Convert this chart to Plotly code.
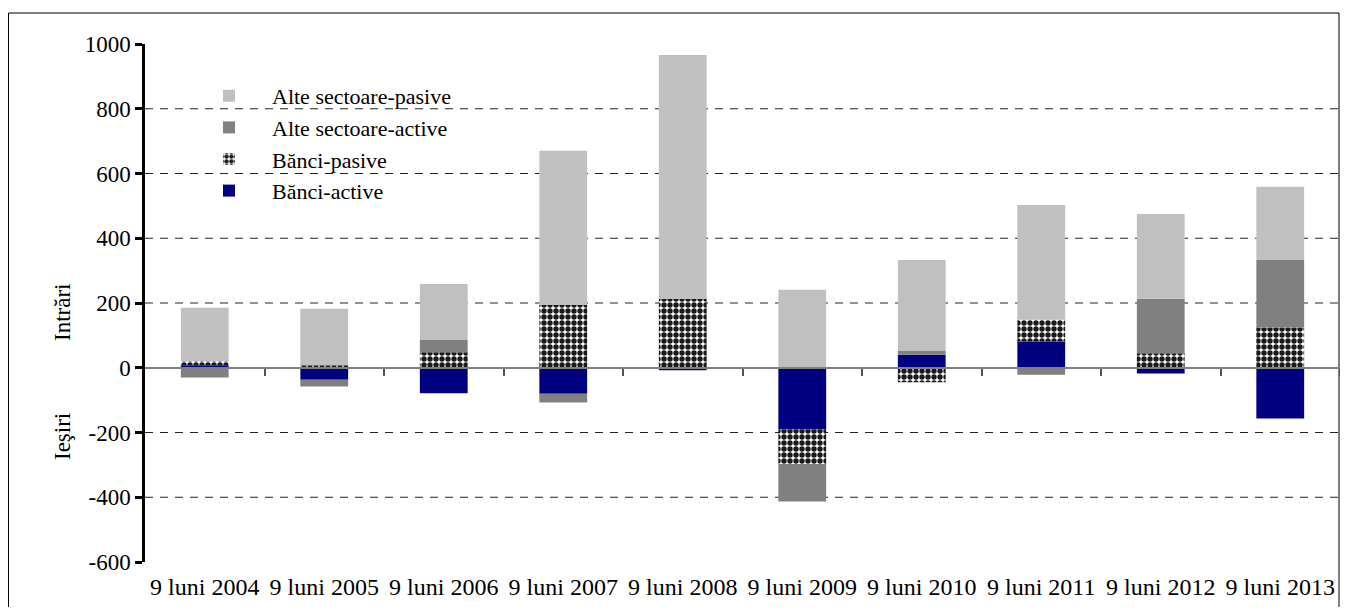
import plotly.graph_objects as go

categories = ["9 luni 2004", "9 luni 2005", "9 luni 2006", "9 luni 2007", "9 luni 2008",
              "9 luni 2009", "9 luni 2010", "9 luni 2011", "9 luni 2012", "9 luni 2013"]
banci_active = [8, -37, -79, -80, -8, -191, 40, 81, -18, -157]
banci_pasive = [12, 8, 48, 194, 213, -106, -45, 67, 45, 124]
alte_active = [-30, -21, 38, -27, 0, -116, 12, -22, 168, 209]
alte_pasive = [165, 174, 173, 476, 753, 241, 281, 355, 262, 226]

grid_values = [-400, -200, 200, 400, 600, 800]
y_ticks = [-600, -400, -200, 0, 200, 400, 600, 800, 1000]
y_tick_text = [str(v) for v in y_ticks]

FONT = "Liberation Serif, Times New Roman, serif"

fig = go.Figure()
fig.add_trace(go.Bar(x=categories, y=banci_active, name="Bănci-active",
                     marker=dict(color="#000080", line=dict(width=0))))
fig.add_trace(go.Bar(x=categories, y=banci_pasive, name="Bănci-pasive",
                     marker=dict(color="white", line=dict(width=0),
                                 pattern=dict(shape=".", fgcolor="#1a1a1a", bgcolor="white",
                                              size=6, solidity=0.64, fillmode="replace"))))
fig.add_trace(go.Bar(x=categories, y=alte_active, name="Alte sectoare-active",
                     marker=dict(color="#808080", line=dict(width=0))))
fig.add_trace(go.Bar(x=categories, y=alte_pasive, name="Alte sectoare-pasive",
                     marker=dict(color="#C0C0C0", line=dict(width=0))))

# helper trace for the zero-line axis
fig.add_trace(go.Scatter(x=[None], y=[None], xaxis="x2", yaxis="y", showlegend=False,
                         hoverinfo="skip"))

# figure is placed at (8, 8) on the page by the body margin
FW, FH = 1332, 599
L, R, T, B = 137, 1332, 36, 554
W, H = R - L, B - T

shapes = []
for g in grid_values:
    shapes.append(dict(type="line", xref="paper", yref="y", x0=0, x1=1, y0=g, y1=g,
                       line=dict(color="#222222", width=1, dash="8px,7px"), layer="below"))
# outer border
shapes.append(dict(type="rect", xref="paper", yref="paper",
                   x0=(0.5 - L) / W, x1=(1331 - L) / W, y0=(B - 640) / H, y1=(B - 5) / H,
                   line=dict(color="black", width=1), fillcolor="rgba(0,0,0,0)", layer="below"))

zero_pos = (0 - y_ticks[0]) / (y_ticks[-1] - y_ticks[0])

fig.update_layout(
    width=FW, height=FH,
    margin=dict(l=L, r=FW - R, t=T, b=FH - B),
    paper_bgcolor="white", plot_bgcolor="white",
    barmode="relative", bargap=0.6,
    font=dict(family=FONT, size=23, color="black"),
    showlegend=True,
    legend=dict(x=(178 - L) / W, y=(B - 67) / H, xanchor="left", yanchor="top",
                traceorder="reversed", bgcolor="rgba(0,0,0,0)",
                font=dict(family=FONT, size=22, color="black"), itemwidth=76),
    xaxis=dict(type="category", range=[-0.5, 9.5], showline=False, ticks="", showgrid=False,
               zeroline=False, ticklabelstandoff=8,
               tickfont=dict(family=FONT, size=24, color="black")),
    xaxis2=dict(overlaying="x", anchor="free", position=zero_pos, range=[-0.5, 9.5],
                showline=True, linecolor="#808080", linewidth=2, ticks="outside", ticklen=7,
                tickcolor="#555555", tickwidth=1.5, showticklabels=False, showgrid=False,
                zeroline=False, tickvals=[i + 0.5 for i in range(10)], side="bottom"),
    yaxis=dict(range=[y_ticks[0], y_ticks[-1]], tickvals=y_ticks, ticktext=y_tick_text,
               showgrid=False, zeroline=False,
               showline=True, linecolor="black", linewidth=2.5, ticks="outside", ticklen=7,
               tickcolor="black", tickwidth=2.5, tickfont=dict(family=FONT, size=23, color="black")),
    shapes=shapes,
    annotations=[
        dict(text="Intrări", xref="paper", yref="paper", x=(54 - L) / W, y=(B - 304) / H,
             xanchor="center", yanchor="middle",
             textangle=-90, showarrow=False, font=dict(family=FONT, size=23, color="black")),
        dict(text="Ieşiri", xref="paper", yref="paper", x=(54 - L) / W, y=(B - 428) / H,
             xanchor="center", yanchor="middle",
             textangle=-90, showarrow=False, font=dict(family=FONT, size=23, color="black")),
    ],
)

fig.write_html("out.html")
